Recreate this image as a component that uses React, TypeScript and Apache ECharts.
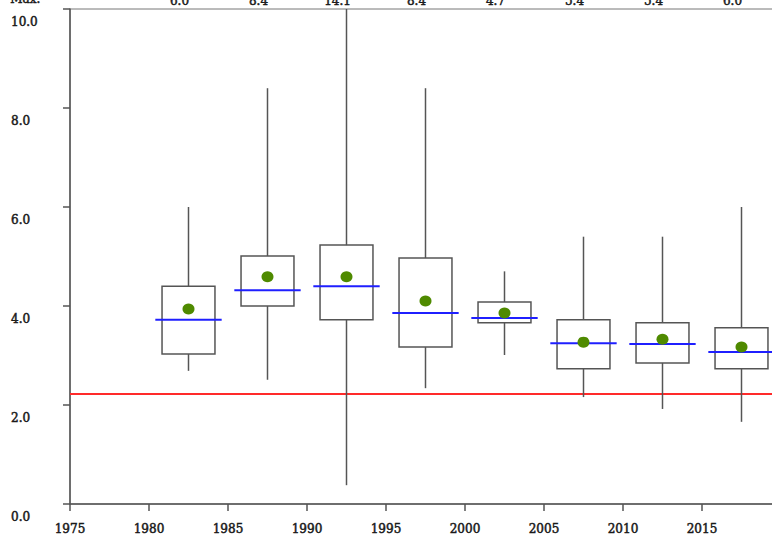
import React, { useEffect, useRef } from "react";
import * as echarts from "echarts";

// Period centres (5-year bins)
const PERIODS = [1982.5, 1987.5, 1992.5, 1997.5, 2002.5, 2007.5, 2012.5, 2017.5];
const MIN = [2.69, 2.51, 0.38, 2.34, 3.01, 2.16, 1.92, 1.66];
const Q1 = [3.03, 4.0, 3.72, 3.17, 3.66, 2.73, 2.85, 2.73];
const MEDIAN = [3.72, 4.32, 4.4, 3.86, 3.76, 3.25, 3.23, 3.07];
const Q3 = [4.4, 5.01, 5.23, 4.97, 4.08, 3.72, 3.66, 3.56];
const MAX = [6.0, 8.4, 14.1, 8.4, 4.7, 5.4, 5.4, 6.0];
const MEAN = [3.94, 4.59, 4.59, 4.1, 3.86, 3.27, 3.33, 3.17];
const REFERENCE_LEVEL = 2.22;
const X_MIN = 1975;
const X_MAX = 2020;
const Y_MIN = 0;
const Y_MAX = 10;

const FONT = "DejaVu Serif";
const TEXT_COLOR = "#1a1a1a";
const TEXT_STROKE = { textBorderColor: "#1a1a1a", textBorderWidth: 0.5 };

export default function App() {
  const ref = useRef<HTMLDivElement>(null);
  useEffect(() => {
    if (!ref.current) return;
    const chart = echarts.init(ref.current, null, { renderer: "svg" });

    const boxData = PERIODS.map((p, i) => [p, MIN[i], Q1[i], MEDIAN[i], Q3[i], MAX[i]]);
    const meanData = PERIODS.map((p, i) => [p, MEAN[i]]);
    const labelData = PERIODS.map((p, i) => [p, MAX[i]]);

    const option: any = {
      animation: false,
      backgroundColor: "#ffffff",
      grid: { left: 70, right: 0, top: 9, bottom: 34, show: true, borderColor: "#777", borderWidth: 1 },
      xAxis: {
        type: "value",
        min: X_MIN,
        max: X_MAX,
        interval: 5,
        splitLine: { show: false },
        axisLine: { show: true, lineStyle: { color: "#555", width: 1.5 } },
        axisTick: { show: true, inside: false, length: 7, lineStyle: { color: "#555", width: 1.5 } },
        axisLabel: {
          showMaxLabel: false,
          margin: 19,
          color: TEXT_COLOR,
          fontFamily: FONT,
          fontSize: 12,
          ...TEXT_STROKE,
          formatter: (v: number) => String(v),
        },
      },
      yAxis: {
        type: "value",
        min: Y_MIN,
        max: Y_MAX,
        interval: 2,
        splitLine: { show: false },
        axisLine: { show: true, lineStyle: { color: "#555", width: 1.5 } },
        axisTick: { show: true, length: 7, lineStyle: { color: "#555", width: 1.5 } },
        axisLabel: {
          align: "left",
          margin: 59,
          verticalAlign: "top",
          lineHeight: 26,
          color: TEXT_COLOR,
          fontFamily: FONT,
          fontSize: 12,
          ...TEXT_STROKE,
          formatter: (v: number) => v.toFixed(1),
        },
      },
      graphic: [
        {
          type: "text",
          left: 10,
          top: -7,
          style: { text: "Max.", fill: TEXT_COLOR, font: `12px "${FONT}"`, stroke: "#1a1a1a", lineWidth: 0.5 },
        },
      ],
      series: [
        {
          type: "line",
          data: [
            [X_MIN, REFERENCE_LEVEL],
            [X_MAX, REFERENCE_LEVEL],
          ],
          symbol: "none",
          lineStyle: { color: "#ff2a2a", width: 2 },
          z: 1,
        },
        {
          type: "custom",
          data: boxData,
          encode: { x: 0, y: [1, 2, 3, 4, 5] },
          z: 3,
          renderItem: (params: any, api: any) => {
            const x = api.value(0);
            const cs = params.coordSys;
            const pMin = api.coord([x, api.value(1)]);
            const pQ1 = api.coord([x, api.value(2)]);
            const pMed = api.coord([x, api.value(3)]);
            const pQ3 = api.coord([x, api.value(4)]);
            const pMax = api.coord([x, api.value(5)]);
            const topY = Math.max(pMax[1], cs.y);
            const boxW = api.size([3.35, 0])[0];
            const medW = api.size([4.2, 0])[0];
            const stroke = { stroke: "#555", lineWidth: 1.5, fill: "none" };
            return {
              type: "group",
              children: [
                { type: "line", shape: { x1: pMax[0], y1: topY, x2: pQ3[0], y2: pQ3[1] }, style: stroke },
                { type: "line", shape: { x1: pQ1[0], y1: pQ1[1], x2: pMin[0], y2: pMin[1] }, style: stroke },
                {
                  type: "rect",
                  shape: { x: pQ3[0] - boxW / 2, y: pQ3[1], width: boxW, height: pQ1[1] - pQ3[1] },
                  style: stroke,
                },
                {
                  type: "line",
                  shape: { x1: pMed[0] - medW / 2, y1: pMed[1], x2: pMed[0] + medW / 2, y2: pMed[1] },
                  style: { stroke: "#1f1fff", lineWidth: 2 },
                },
              ],
            };
          },
        },
        {
          type: "scatter",
          data: meanData,
          symbol: "circle",
          symbolSize: [12, 11],
          itemStyle: { color: "#4f8a00", opacity: 1 },
          z: 4,
        },
        {
          type: "custom",
          data: labelData,
          encode: { x: 0, y: 1 },
          clip: false,
          z: 5,
          renderItem: (params: any, api: any) => {
            const x = api.value(0);
            const p = api.coord([x, Y_MAX]);
            return {
              type: "text",
              x: p[0] - 9,
              y: params.coordSys.y - 8,
              style: {
                text: Number(api.value(1)).toFixed(1),
                fill: TEXT_COLOR,
                font: `12px "${FONT}"`,
                stroke: "#1a1a1a",
                lineWidth: 0.5,
                align: "center",
                verticalAlign: "middle",
              },
            };
          },
        },
      ],
    };
    chart.setOption(option);
    return () => chart.dispose();
  }, []);

  return (
    <div style={{ position: "absolute", left: 0, top: 0, width: 772, height: 538, overflow: "hidden" }}>
      <div ref={ref} style={{ width: 781, height: 538 }} />
    </div>
  );
}
